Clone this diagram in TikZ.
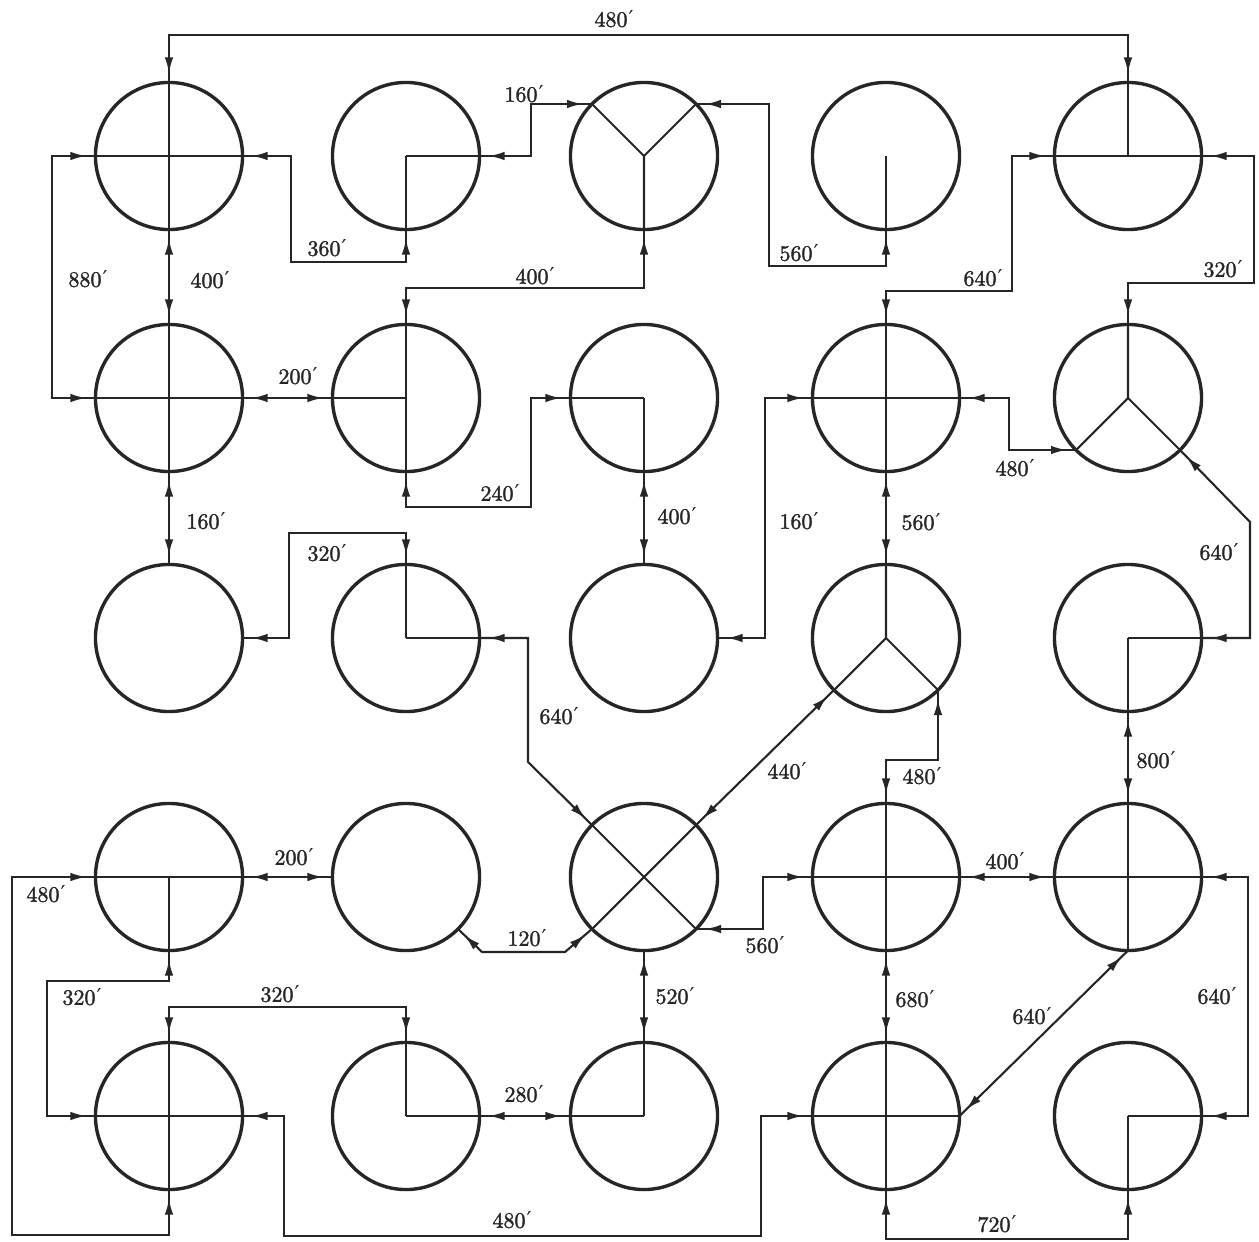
\documentclass[tikz,border=0pt]{standalone}
\usepackage{fontspec}
\newfontfamily\primefont{DejaVu Serif}
\newfontfamily\lblfont{lmroman10-regular.otf}[FakeBold=1.6]
\newcommand{\primemark}{\kern1pt{\primefont\char"2032}}
\usetikzlibrary{arrows.meta,decorations.markings}
\definecolor{ink}{HTML}{262626}
\begin{document}
\begin{tikzpicture}[x=1pt,y=-1pt,color=ink,
  font=\lblfont\fontsize{22}{26}\selectfont,
  stn/.style={circle,draw=ink,line width=3.4pt,minimum size=147.08pt,inner sep=0pt,outer sep=0pt},
  inr/.style={draw=ink,line width=2.1pt},
  conn/.style={draw=ink,line width=2.1pt,postaction={decorate},
    decoration={markings,
      mark=at position 9pt with {\arrowreversed{Latex[length=16pt,width=8.5pt]}},
      mark=at position -9pt with {\arrow{Latex[length=16pt,width=8.5pt]}}}},
  lbl/.style={inner sep=0pt,text=ink}]
\fill[white] (0,0) rectangle (1259,1242);
\useasboundingbox (0,0) rectangle (1259,1242);
% stations
\node[stn] (A) at (169,156) {};
\node[stn] (B) at (406,156) {};
\node[stn] (C) at (644,156) {};
\node[stn] (D) at (886,156) {};
\node[stn] (E) at (1128,156) {};
\node[stn] (F) at (169,398) {};
\node[stn] (G) at (406,398) {};
\node[stn] (H) at (644,398) {};
\node[stn] (M) at (886,398) {};
\node[stn] (N) at (1128,398) {};
\node[stn] (J) at (169,638) {};
\node[stn] (K) at (406,638) {};
\node[stn] (L) at (644,638) {};
\node[stn] (P) at (886,638) {};
\node[stn] (O) at (1128,638) {};
\node[stn] (Q) at (169,877) {};
\node[stn] (S) at (406,877) {};
\node[stn] (X) at (644,877) {};
\node[stn] (W) at (886,877) {};
\node[stn] (Y) at (1128,877) {};
\node[stn] (R) at (169,1116) {};
\node[stn] (T) at (406,1116) {};
\node[stn] (U) at (644,1116) {};
\node[stn] (V) at (886,1116) {};
\node[stn] (Z) at (1128,1116) {};
% inner strokes
\draw[inr] (A.north)--(A.south) (A.west)--(A.east);
\draw[inr] (B.center)--(B.east) (B.center)--(B.south);
\draw[inr] (C.center)--(C.45) (C.center)--(C.135) (C.center)--(C.south);
\draw[inr] (D.center)--(D.south);
\draw[inr] (E.west)--(E.east) (E.center)--(E.north);
\draw[inr] (F.north)--(F.south) (F.west)--(F.east);
\draw[inr] (G.north)--(G.south) (G.center)--(G.west);
\draw[inr] (H.center)--(H.west) (H.center)--(H.south);
\draw[inr] (M.north)--(M.south) (M.west)--(M.east);
\draw[inr] (N.center)--(N.north) (N.center)--(N.225) (N.center)--(N.-45);
\draw[inr] (K.center)--(K.north) (K.center)--(K.east);
\draw[inr] (P.center)--(P.north) (P.center)--(P.225) (P.center)--(P.-45);
\draw[inr] (O.center)--(O.east) (O.center)--(O.south);
\draw[inr] (Q.west)--(Q.east) (Q.center)--(Q.south);
\draw[inr] (X.45)--(X.225) (X.135)--(X.-45);
\draw[inr] (W.north)--(W.south) (W.west)--(W.east);
\draw[inr] (Y.north)--(Y.south) (Y.west)--(Y.east);
\draw[inr] (R.north)--(R.south) (R.west)--(R.east);
\draw[inr] (T.center)--(T.north) (T.center)--(T.east);
\draw[inr] (U.center)--(U.north) (U.center)--(U.west);
\draw[inr] (V.north)--(V.south) (V.west)--(V.east);
\draw[inr] (Z.center)--(Z.east) (Z.center)--(Z.south);
% connectors
\draw[conn] (A.north) |- (1000,35) -| (E.north);
\draw[conn] (A.west) -| (52,300) |- (F.west);
\draw[conn] (A.south) -- (F.north);
\draw[conn] (A.east) -| (291,262) -| (B.south);
\draw[conn] (B.east) -| (531,130) |- (C.135);
\draw[conn] (C.south) |- (500,288) -| (G.north);
\draw[conn] (D.south) |- (800,266) -| (769,200) |- (C.45);
\draw[conn] (E.west) -| (1012,250) |- (950,291) -| (M.north);
\draw[conn] (E.east) -| (1254,250) |- (1200,283) -| (N.north);
\draw[conn] (F.east) -- (G.west);
\draw[conn] (F.south) -- (J.north);
\draw[conn] (G.south) |- (450,507) -| (531,450) |- (H.west);
\draw[conn] (H.south) -- (L.north);
\draw[conn] (L.east) -| (765,500) |- (M.west);
\draw[conn] (M.east) -| (1009,420) |- (N.225);
\draw[conn] (M.south) -- (P.north);
\draw[conn] (O.east) -| (1250,522) -- (N.-45);
\draw[conn] (J.east) -| (289,580) |- (350,533) -| (K.north);
\draw[conn] (K.east) -| (528,762) -- (X.135);
\draw[conn] (X.45) -- (P.225);
\draw[conn] (P.-45) |- (900,760) -| (W.north);
\draw[conn] (O.south) -- (Y.north);
\draw[conn] (Q.east) -- (S.west);
\draw[conn] (S.-45) -- (482,952) -- (565,952) -- (X.225);
\draw[conn] (X.-45) -| (763,900) |- (W.west);
\draw[conn] (W.east) -- (Y.west);
\draw[conn] (Y.east) -| (1248,1000) |- (Z.east);
\draw[conn] (X.south) -- (U.north);
\draw[conn] (W.south) -- (V.north);
\draw[conn] (Y.south) -- (V.east);
\draw[conn] (V.south) |- (1000,1239) -| (Z.south);
\draw[conn] (Q.west) -| (12,1000) |- (100,1235) -| (R.south);
\draw[conn] (Q.south) |- (100,981) -| (47,1050) |- (R.west);
\draw[conn] (R.north) |- (300,1007) -| (T.north);
\draw[conn] (T.east) -- (U.west);
\draw[conn] (R.east) -| (284,1200) |- (500,1236) -| (761,1150) |- (V.west);
% labels
\node[lbl] (t1) at (614,19) {480\primemark};
\node[lbl] (t2) at (88,279) {880\primemark};
\node[lbl] (t3) at (210,280) {400\primemark};
\node[lbl] (t4) at (327,248) {360\primemark};
\node[lbl] (t5) at (524,94) {160\primemark};
\node[lbl] (t6) at (535,276) {400\primemark};
\node[lbl] (t7) at (799,253) {560\primemark};
\node[lbl] (t8) at (983,278) {640\primemark};
\node[lbl] (t9) at (1223,269) {320\primemark};
\node[lbl] (t10) at (298,376) {200\primemark};
\node[lbl] (t11) at (206,521) {160\primemark};
\node[lbl] (t12) at (500,493) {240\primemark};
\node[lbl] (t13) at (677,516) {400\primemark};
\node[lbl] (t14) at (799,521) {160\primemark};
\node[lbl] (t15) at (1015,468) {480\primemark};
\node[lbl] (t16) at (921,522) {560\primemark};
\node[lbl] (t17) at (1219,552) {640\primemark};
\node[lbl] (t18) at (327,553) {320\primemark};
\node[lbl] (t19) at (559,716) {640\primemark};
\node[lbl] (t20) at (787,771) {440\primemark};
\node[lbl] (t21) at (922,776) {480\primemark};
\node[lbl] (t22) at (1156,760) {800\primemark};
\node[lbl] (t23) at (294,857) {200\primemark};
\node[lbl] (t24) at (527,938) {120\primemark};
\node[lbl] (t25) at (765,945) {560\primemark};
\node[lbl] (t26) at (1005,861) {400\primemark};
\node[lbl] (t27) at (1217,996) {640\primemark};
\node[lbl] (t28) at (675,996) {520\primemark};
\node[lbl] (t29) at (915,999) {680\primemark};
\node[lbl] (t30) at (1032,1016) {640\primemark};
\node[lbl] (t31) at (997,1224) {720\primemark};
\node[lbl] (t32) at (46,894) {480\primemark};
\node[lbl] (t33) at (82,997) {320\primemark};
\node[lbl] (t34) at (280,994) {320\primemark};
\node[lbl] (t35) at (524,1094) {280\primemark};
\node[lbl] (t36) at (512,1220) {480\primemark};
\end{tikzpicture}
\end{document}
